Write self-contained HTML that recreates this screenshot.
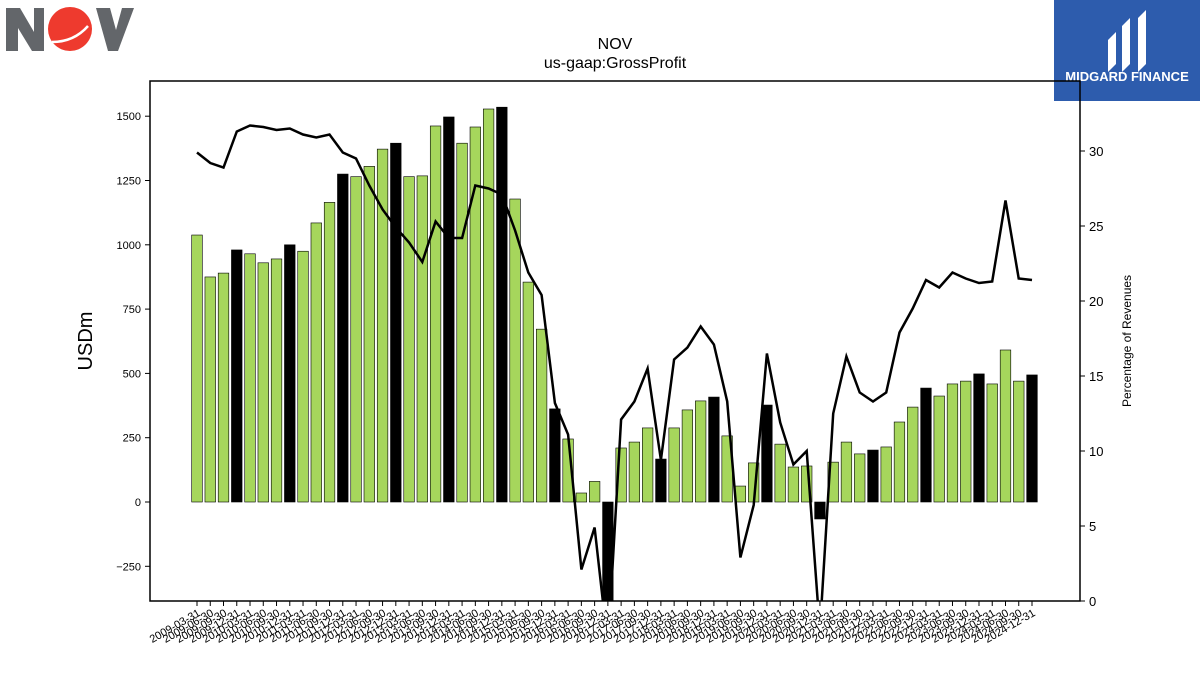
<!DOCTYPE html>
<html><head><meta charset="utf-8"><style>
body{margin:0;background:#fff;font-family:"Liberation Sans","DejaVu Sans",sans-serif}
svg{display:block}
</style></head><body>
<svg id="c" width="1200" height="675" xmlns="http://www.w3.org/2000/svg">
<g>
<polygon points="6,8 20,8 34,32 34,8 44,8 44,51 32,51 18,28 18,51 6,51" fill="#63666a"/>
<circle cx="70" cy="29" r="24" fill="#fff"/>
<circle cx="70" cy="29" r="22" fill="#ee3a2e"/>
<path d="M52,42 Q74,42 88,26" stroke="#fff" stroke-width="2.5" fill="none"/>
<polygon points="96,8 110,8 116,30 122,8 134,8 118,51 108,51" fill="#63666a"/>
</g>
<g>
<rect x="1054" y="0" width="146" height="101" fill="#2d5cad"/>
<path d="M1108,40 L1116,32 L1116,64 L1108,72 Z" fill="#fff"/>
<path d="M1122,26 L1130,18 L1130,64 L1122,72 Z" fill="#fff"/>
<path d="M1138,18 L1146,10 L1146,64 L1138,72 Z" fill="#fff"/>
<text x="1127" y="81" font-size="13" font-weight="bold" fill="#fff" text-anchor="middle">MIDGARD FINANCE</text>
</g>
<text x="615" y="49" font-size="16" text-anchor="middle">NOV</text>
<text x="615" y="68" font-size="16" text-anchor="middle">us-gaap:GrossProfit</text>
<text transform="translate(92,341) rotate(-90)" font-size="20" text-anchor="middle">USDm</text>
<text transform="translate(1131,341) rotate(-90)" font-size="12" text-anchor="middle">Percentage of Revenues</text>
<g id="plot"></g>
</svg>
<script>
const categories=[];
for(let y=2009;y<=2024;y++){for(const q of ["03-31","06-30","09-30","12-31"])categories.push(y+"-"+q);}
const grossProfit=[1038,875,890,980,965,930,945,1000,975,1085,1165,1275,1265,1305,1372,1395,1265,1268,1462,1497,1395,1458,1528,1535,1178,855,672,362,245,35,80,-420,210,233,288,167,288,358,393,408,257,62,152,377,225,136,140,-66,155,233,187,202,214,311,369,443,412,459,470,498,459,591,470,494];
const marginPct=[29.9,29.2,28.9,31.3,31.7,31.6,31.4,31.5,31.1,30.9,31.1,29.9,29.5,27.7,26.1,24.9,23.9,22.6,25.3,24.2,24.2,27.7,27.5,27.1,24.7,21.9,20.4,13.2,11.1,2.1,4.9,-3,12.1,13.3,15.5,9.4,16.1,16.9,18.3,17.1,13.3,2.9,6.4,16.5,11.9,9.1,10.0,-2,12.5,16.3,13.9,13.3,13.9,17.9,19.5,21.4,20.9,21.9,21.5,21.2,21.3,26.7,21.5,21.4];
const leftTicks=[-250,0,250,500,750,1000,1250,1500];
const rightTicks=[0,5,10,15,20,25,30];
const L=150,R=1080,T=81,B=601;
const yL=v=>502-v*0.2572;
const yR=v=>601-v*15;
const xS=i=>197+i*13.254;
const NS="http://www.w3.org/2000/svg";
const g=document.getElementById('plot');
function mk(t,a,p){const e=document.createElementNS(NS,t);for(const k in a)e.setAttribute(k,a[k]);(p||g).appendChild(e);return e;}
const defs=mk('defs',{});const cp=mk('clipPath',{id:'cl'},defs);mk('rect',{x:L,y:T,width:R-L,height:B-T},cp);
const bars=mk('g',{'clip-path':'url(#cl)'});


grossProfit.forEach((v,i)=>{
 const y0=yL(0),y1=yL(v);
 const r=mk('rect',{x:xS(i)-5.3,y:Math.min(y0,y1),width:10.6,height:Math.abs(y1-y0),fill:(i%4==3)?'#000':'#a6d65c',stroke:'#000','stroke-width':0.6},bars);
 
 
});
const pts=marginPct.map((v,i)=>xS(i).toFixed(1)+','+yR(v).toFixed(1)).join(' ');
const ln=mk('polyline',{points:pts,fill:'none',stroke:'#000','stroke-width':2.5,'clip-path':'url(#cl)'});


const fr=mk('rect',{x:L,y:T,width:R-L,height:B-T,fill:'none',stroke:'#000','stroke-width':1.5});


leftTicks.forEach(v=>{const y=yL(v);mk('line',{x1:L-5,x2:L,y1:y,y2:y,stroke:'#000'});
 const t=mk('text',{x:L-9,y:y+4,'font-size':11,'text-anchor':'end'});t.textContent=v==-250?'\u2212250':v;
 
 });
rightTicks.forEach(v=>{const y=yR(v);mk('line',{x1:R,x2:R+5,y1:y,y2:y,stroke:'#000'});
 const t=mk('text',{x:R+9,y:y+5,'font-size':13});t.textContent=v;
 
 });
categories.forEach((c,i)=>{const x=xS(i);mk('line',{x1:x,x2:x,y1:B,y2:B+5,stroke:'#000'});
 const t=mk('text',{transform:`translate(${x+4},${B+14}) rotate(-30)`,'font-size':11,'text-anchor':'end'});t.textContent=c;
 
 });
</script>
</body></html>
